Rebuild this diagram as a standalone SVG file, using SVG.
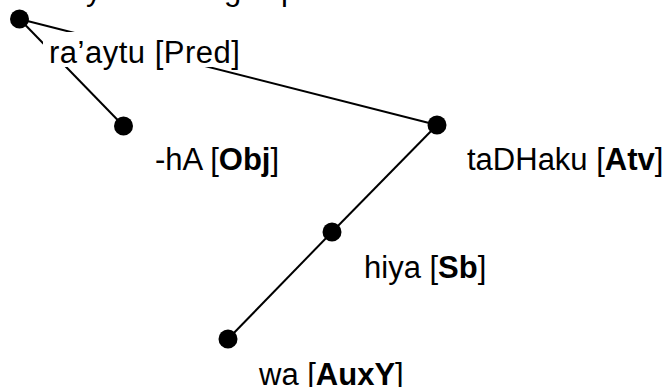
<svg xmlns="http://www.w3.org/2000/svg" width="668" height="387" viewBox="0 0 668 387">
<style>
  .edge { stroke: #000; stroke-width: 2; fill: none; }
  .dot { fill: #000; }
  .lbl { font-family: "Liberation Sans", Arial, Helvetica, sans-serif; font-size: 31px; fill: #000; }
  .b { font-weight: bold; }
  .bg { fill: #fff; }
</style>
<rect width="668" height="387" fill="#fff"/>
<text class="lbl" y="-0.5"><tspan x="86">y</tspan><tspan x="224">g</tspan><tspan x="281">p</tspan></text>
<g id="connectors">
  <line class="edge" x1="19.5" y1="19" x2="123.5" y2="126"/>
  <line class="edge" x1="19.5" y1="19" x2="437" y2="125"/>
  <line class="edge" x1="437" y1="125" x2="332" y2="232"/>
  <line class="edge" x1="332" y1="232" x2="228" y2="339"/>
</g>
<g id="node-pred">
  <circle class="dot" cx="19.5" cy="19" r="9.5"/>
  <rect class="bg" x="43" y="32" width="198" height="35"/>
  <text class="lbl" x="49" y="63" letter-spacing="0.5">ra’aytu [Pred]</text>
</g>
<g id="node-obj">
  <circle class="dot" cx="123.5" cy="126" r="9.5"/>
  <text class="lbl" x="155" y="170">-hA [<tspan class="b">Obj</tspan>]</text>
</g>
<g id="node-atv">
  <circle class="dot" cx="437" cy="125" r="9.5"/>
  <text class="lbl" x="467" y="170">taDHaku [<tspan class="b">Atv</tspan>]</text>
</g>
<g id="node-sb">
  <circle class="dot" cx="332" cy="232" r="9.5"/>
  <text class="lbl" x="364" y="278">hiya [<tspan class="b">Sb</tspan>]</text>
</g>
<g id="node-auxy">
  <circle class="dot" cx="228" cy="339" r="9.5"/>
  <text class="lbl" x="259" y="385">wa [<tspan class="b">AuxY</tspan>]</text>
</g>
</svg>
